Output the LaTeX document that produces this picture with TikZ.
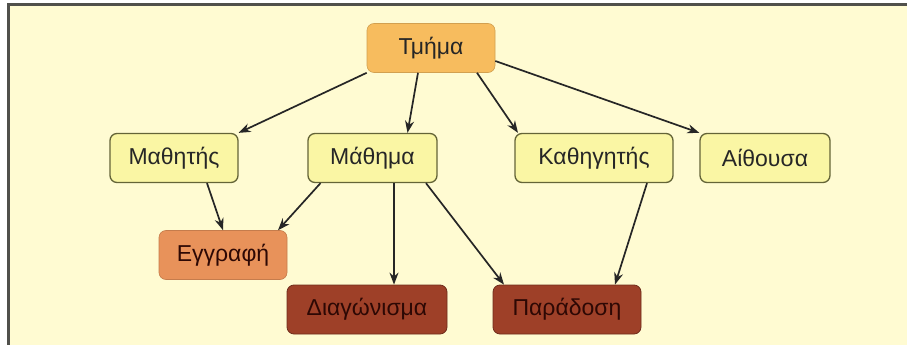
\documentclass[tikz,border=0pt]{standalone}
\usepackage{fontspec}
\setmainfont{Liberation Sans}
\usepackage{tikz}
\usetikzlibrary{arrows.meta}
\definecolor{paper}{RGB}{255,251,210}
\definecolor{framegray}{RGB}{80,80,75}
\definecolor{topfill}{RGB}{247,188,94}
\definecolor{yellowfill}{RGB}{250,246,164}
\definecolor{yellowline}{RGB}{100,100,55}
\definecolor{eggfill}{RGB}{232,146,90}
\definecolor{brownfill}{RGB}{158,64,40}
\definecolor{browntext}{RGB}{45,8,4}
\tikzset{
    % 节点样式
    boxnode/.style={
        rounded corners=7pt,
        minimum height=49pt,
        inner sep=2pt,
        font=\fontsize{23}{27}\selectfont
    },
    topbox/.style={boxnode, fill=topfill, draw=topfill!85!black, line width=0.6pt, text=black!85},
    yellowbox/.style={boxnode, fill=yellowfill, draw=yellowline, line width=1.3pt, text=black!85},
    orangebox/.style={boxnode, fill=eggfill, draw=eggfill!85!black, line width=0.6pt, text=browntext},
    brownbox/.style={boxnode, fill=brownfill, draw=brownfill!70!black, line width=0.8pt, text=browntext},
    % 箭头样式
    linkarrow/.style={
        line width=1.7pt,
        black!85,
        -{Stealth[length=12pt, width=9pt]}
    }
}
\begin{document}
\begin{tikzpicture}[x=1pt,y=-1pt]
	\useasboundingbox (0,0) rectangle (907,345);
	% 背景
	\fill[white] (0,0) rectangle (907,345);
	\fill[paper] (8,5) rectangle (907,345);
	\draw[framegray, line width=3pt] (8,345) -- (8,5) -- (907,5);
	
	% 节点
	\node[topbox, minimum width=128pt] (tmima) at (431,48) {Τμήμα};
	\node[yellowbox, minimum width=128pt] (mathitis) at (174,158) {Μαθητής};
	\node[yellowbox, minimum width=129pt] (mathima) at (372.5,158) {Μάθημα};
	\node[yellowbox, minimum width=158pt] (kathigitis) at (594,158) {Καθηγητής};
	\node[yellowbox, minimum width=130pt] (aithousa) at (765,158) {Αίθουσα};
	\node[orangebox, minimum width=128pt] (eggrafi) at (223,255) {Εγγραφή};
	\node[brownbox, minimum width=160pt] (diagonisma) at (367,309.5) {Διαγώνισμα};
	\node[brownbox, minimum width=148pt] (paradosi) at (567,309.5) {Παράδοση};
	
	% 箭头
	\draw[linkarrow] (tmima.south west) -- (mathitis.north east);
	\draw[linkarrow] ([xshift=-13pt]tmima.south) -- ([xshift=35pt]mathima.north);
	\draw[linkarrow] ([xshift=46pt]tmima.south) -- ([xshift=-76pt]kathigitis.north);
	\draw[linkarrow] ([yshift=-13pt]tmima.east) -- (aithousa.north west);
	\draw[linkarrow] ([xshift=33pt]mathitis.south) -- (eggrafi.north);
	\draw[linkarrow] ([xshift=-52pt]mathima.south) -- ([xshift=55pt]eggrafi.north);
	\draw[linkarrow] ([xshift=21.5pt]mathima.south) -- ([xshift=27pt]diagonisma.north);
	\draw[linkarrow] ([xshift=53.5pt]mathima.south) -- ([xshift=-63pt]paradosi.north);
	\draw[linkarrow] ([xshift=53pt]kathigitis.south) -- ([xshift=48pt]paradosi.north);
\end{tikzpicture}
\end{document}
